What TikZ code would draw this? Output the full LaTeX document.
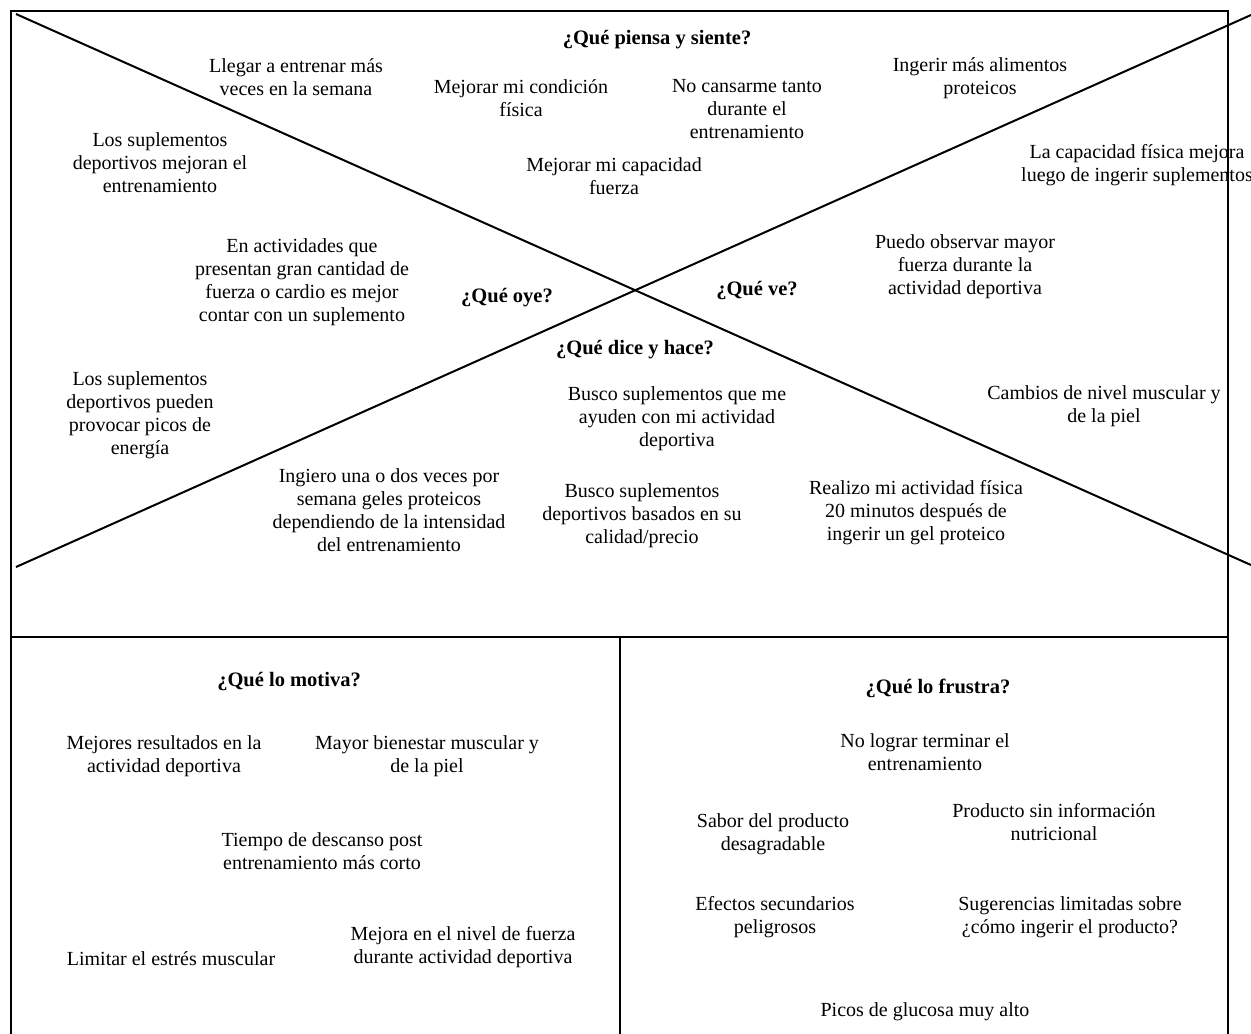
\documentclass[tikz,border=0pt]{standalone}
\usepackage{fontspec}
\setmainfont{Liberation Serif}
\usetikzlibrary{positioning,calc}
\tikzset{
    % Base text node style
    basenode/.style={
        align=center,
        inner sep=0pt,
        font=\fontsize{20}{23}\selectfont
    },
    % Quadrant heading style
    headnode/.style={
        basenode,
        font=\fontsize{20.5}{23}\selectfont\bfseries
    },
    % Frame lines
    frameline/.style={
        line width=2.4pt,
        draw=black
    },
    % Diagonal lines
    crossline/.style={
        line width=2pt,
        draw=black
    }
}
\begin{document}
\begin{tikzpicture}[x=1pt,y=-1pt]
    \useasboundingbox (0,0) rectangle (1251,1034);
    % frame corners
    \coordinate (tl) at (11,11);
    \coordinate (tr) at (1228,11);
    \coordinate (bl) at (11,1034);
    \coordinate (br) at (1228,1034);
    \coordinate (ml) at (11,637);
    \coordinate (mr) at (1228,637);
    \coordinate (mc) at (620,637);
    \coordinate (bc) at (620,1034);
    % diagonal ends
    \coordinate (d1a) at (16,14);
    \coordinate (d1b) at (1251,565);
    \coordinate (d2a) at (16,567);
    \coordinate (d2b) at (1251,15);

    \draw[frameline] (bl) -- (tl) -- (tr) -- (br);
    \draw[frameline] (ml) -- (mr);
    \draw[frameline] (mc) -- (bc);
    \draw[crossline] (d1a) -- (d1b);
    \draw[crossline] (d2a) -- (d2b);

    % empathy map: upper part
    \node[headnode] (piensa) at (657,40) {¿Qué piensa y siente?};
    \node[basenode] (p1) at (296,77) {Llegar a entrenar más\\veces en la semana};
    \node[basenode] (p2) at (521,98) {Mejorar mi condición\\física};
    \node[basenode] (p3) at (747,109) {No cansarme tanto\\durante el\\entrenamiento};
    \node[basenode] (p4) at (980,78) {Ingerir más alimentos\\proteicos};
    \node[basenode] (p5) at (614,176) {Mejorar mi capacidad\\fuerza};

    \node[headnode] (oye) at (507,298) {¿Qué oye?};
    \node[basenode] (o1) at (160,163) {Los suplementos\\deportivos mejoran el\\entrenamiento};
    \node[basenode] (o2) at (302,282) {En actividades que\\presentan gran cantidad de\\fuerza o cardio es mejor\\contar con un suplemento};
    \node[basenode] (o3) at (140,415) {Los suplementos\\deportivos pueden\\provocar picos de\\energía};

    \node[headnode] (ve) at (757,290) {¿Qué ve?};
    \node[basenode] (v1) at (1137,165) {La capacidad física mejora\\luego de ingerir suplementos};
    \node[basenode] (v2) at (965,267) {Puedo observar mayor\\fuerza durante la\\actividad deportiva};
    \node[basenode] (v3) at (1104,406) {Cambios de nivel muscular y\\de la piel};

    \node[headnode] (dice) at (635,350) {¿Qué dice y hace?};
    \node[basenode] (h1) at (677,419) {Busco suplementos que me\\ayuden con mi actividad\\deportiva};
    \node[basenode] (h2) at (389,510) {Ingiero una o dos veces por\\semana geles proteicos\\dependiendo de la intensidad\\del entrenamiento};
    \node[basenode] (h3) at (642,516) {Busco suplementos\\deportivos basados en su\\calidad/precio};
    \node[basenode] (h4) at (916,513) {Realizo mi actividad física\\20 minutos después de\\ingerir un gel proteico};

    % lower left: motivation
    \node[headnode] (motiva) at (289,681) {¿Qué lo motiva?};
    \node[basenode] (m1) at (164,756) {Mejores resultados en la\\actividad deportiva};
    \node[basenode] (m2) at (427,756) {Mayor bienestar muscular y\\de la piel};
    \node[basenode] (m3) at (322,851) {Tiempo de descanso post\\entrenamiento más corto};
    \node[basenode] (m4) at (171,959) {Limitar el estrés muscular};
    \node[basenode] (m5) at (463,947) {Mejora en el nivel de fuerza\\durante actividad deportiva};

    % lower right: frustration
    \node[headnode] (frustra) at (938,688) {¿Qué lo frustra?};
    \node[basenode] (f1) at (925,752) {No lograr terminar el\\entrenamiento};
    \node[basenode] (f2) at (773,834) {Sabor del producto\\desagradable};
    \node[basenode] (f3) at (1054,822) {Producto sin información\\nutricional};
    \node[basenode] (f4) at (775,917) {Efectos secundarios\\peligrosos};
    \node[basenode] (f5) at (1070,917) {Sugerencias limitadas sobre\\¿cómo ingerir el producto?};
    \node[basenode] (f6) at (925,1012) {Picos de glucosa muy alto};
\end{tikzpicture}
\end{document}
